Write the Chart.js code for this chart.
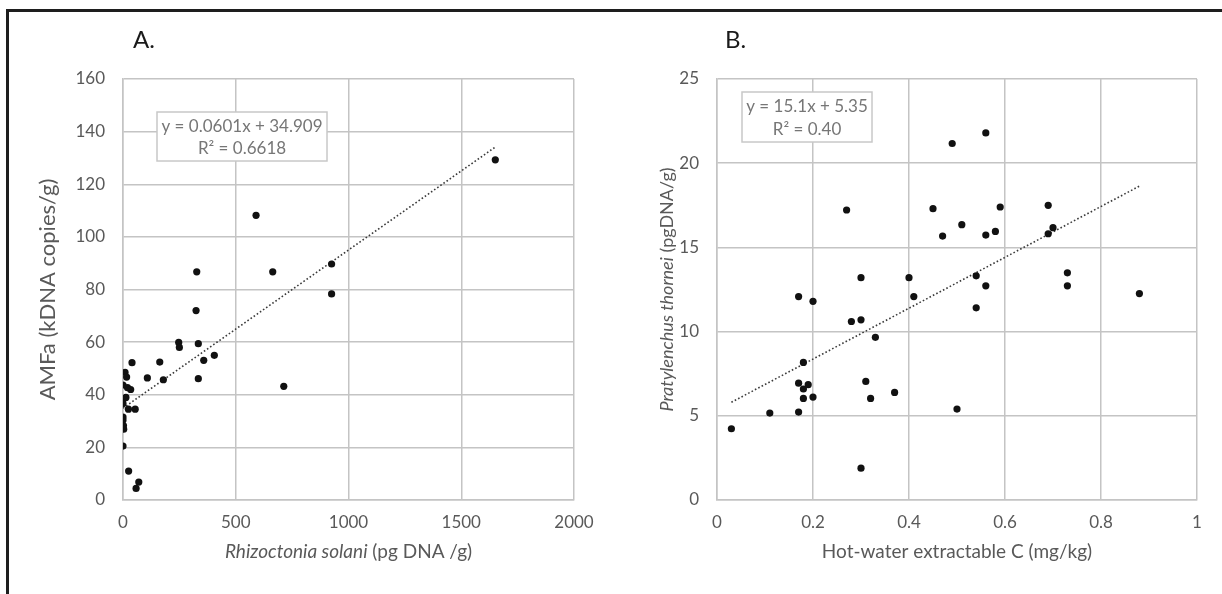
<!DOCTYPE html>
<html>
<head>
<meta charset="utf-8">
<script src="https://cdn.jsdelivr.net/npm/chart.js@4/dist/chart.umd.min.js"></script>
<style>
body { margin:0; background:#fff; width:1222px; height:594px; overflow:hidden; position:relative; font-family:Lato, sans-serif; }
#frame { position:absolute; left:6px; top:9px; right:0; bottom:0; border-left:3px solid #1e1e1e; border-top:3px solid #1e1e1e; }
.wrap { position:absolute; top:0; width:611px; height:594px; }
.panel { position:absolute; top:24px; font-size:24px; color:#1a1a1a; }
</style>
</head>
<body>
<div id="frame"></div>
<div class="wrap" style="left:0"><canvas id="chartA" width="611" height="594"></canvas></div>
<div class="wrap" style="left:611px"><canvas id="chartB" width="611" height="594"></canvas></div>
<div class="panel" style="left:133px">A.</div>
<div class="panel" style="left:725px">B.</div>
<script>
// panel A: Rhizoctonia solani vs AMFa
const aRhizo = [327, 664, 925, 925, 324, 247, 250, 334, 405, 358, 40, 163, 108, 179, 334, 713, 9, 16, 0, 20, 34, 0, 13, 0, 24, 54, 0, 0, 2, 3, 0, 25, 70, 58, 1651, 590];
const aAmf   = [86.7, 86.7, 89.7, 78.3, 72, 59.9, 58, 59.4, 55, 53.1, 52.2, 52.4, 46.4, 45.7, 46.1, 43.2, 48.5, 46.7, 43.7, 42.7, 42, 38.2, 39, 36.7, 34.5, 34.5, 31.5, 30.4, 28.3, 26.9, 20.5, 11, 6.8, 4.4, 129.3, 108.2];
const aSlope = 0.0601, aIntercept = 34.909;
const aTrendX = [0, 1650];

// panel B: hot-water extractable C vs Pratylenchus thornei
const bHwec = [0.03, 0.11, 0.17, 0.17, 0.18, 0.19, 0.18, 0.20, 0.18, 0.17, 0.20, 0.27, 0.28, 0.30, 0.30, 0.30, 0.31, 0.32, 0.33, 0.37, 0.40, 0.41, 0.45, 0.47, 0.49, 0.56, 0.51, 0.56, 0.58, 0.59, 0.69, 0.70, 0.69, 0.54, 0.56, 0.54, 0.73, 0.73, 0.88, 0.50];
const bPt   = [4.23, 5.16, 5.22, 6.94, 6.59, 6.85, 6.03, 6.11, 8.17, 12.08, 11.8, 17.22, 10.6, 10.7, 13.2, 1.89, 7.04, 6.03, 9.66, 6.39, 13.2, 12.08, 17.3, 15.67, 21.17, 21.8, 16.35, 15.73, 15.95, 17.4, 17.5, 16.17, 15.81, 13.31, 12.72, 11.41, 13.49, 12.72, 12.26, 5.4];
const bSlope = 15.1, bIntercept = 5.35;
const bTrendX = [0.03, 0.88];

const GRID = '#c4c4c4', TICK = '#595959', FONT = 'Lato, sans-serif';

const decor = {
    id: 'decor',
    afterDraw(chart, args, o) {
        const ctx = chart.ctx, ca = chart.chartArea;
        ctx.save();
        ctx.fillStyle = TICK;
        ctx.textBaseline = 'middle';
        const drawParts = (parts, size, cx, cy, rot) => {
            ctx.save();
            ctx.translate(cx, cy);
            if (rot) ctx.rotate(-Math.PI / 2);
            let total = 0;
            parts.forEach(p => { ctx.font = `${p.i ? 'italic ' : ''}${size}px ${FONT}`; total += ctx.measureText(p.t).width; });
            let x = -total / 2;
            ctx.textAlign = 'left';
            parts.forEach(p => { ctx.font = `${p.i ? 'italic ' : ''}${size}px ${FONT}`; ctx.fillText(p.t, x, 0); x += ctx.measureText(p.t).width; });
            ctx.restore();
        };
        drawParts(o.xTitle, o.xSize, (ca.left + ca.right) / 2, 552, false);
        drawParts(o.yTitle, o.ySize, o.yTitleX, (ca.top + ca.bottom) / 2, true);

        // equation box
        const b = o.box;
        ctx.fillStyle = '#fff';
        ctx.fillRect(b.x, b.y, b.w, b.h);
        ctx.strokeStyle = '#c8c8c8';
        ctx.lineWidth = 1.5;
        ctx.strokeRect(b.x, b.y, b.w, b.h);
        ctx.fillStyle = '#767676';
        ctx.font = `17px ${FONT}`;
        ctx.textAlign = 'center';
        ctx.fillText(o.eq[0], b.x + b.w / 2, b.y + b.h * 0.30);
        ctx.fillText(o.eq[1], b.x + b.w / 2, b.y + b.h * 0.75);
        ctx.restore();
    }
};

const fmt = v => String(Math.round(v * 100) / 100);

function scatterChart(id, xs, ys, trendX, slope, icpt, sc, pad, extra) {
    const pts = xs.map((x, i) => ({ x, y: ys[i] }));
    const trend = trendX.map(x => ({ x, y: slope * x + icpt }));
    return new Chart(document.getElementById(id), {
        type: 'scatter',
        data: {
            datasets: [
                { data: pts, pointRadius: 3.6, pointBackgroundColor: '#111', pointBorderWidth: 0, order: 1 },
                { type: 'line', data: trend, borderColor: '#3a3a3a', borderWidth: 1.6, borderDash: [1.6, 2.2], pointRadius: 0, fill: false, order: 2 }
            ]
        },
        options: {
            responsive: false, animation: false,
            layout: { padding: pad },
            plugins: { legend: { display: false }, tooltip: { enabled: false }, decor: extra },
            scales: {
                x: { type: 'linear', min: sc.xMin, max: sc.xMax,
                     ticks: { stepSize: sc.xStep, color: TICK, font: { family: FONT, size: 17 }, padding: 12, callback: fmt },
                     grid: { color: GRID, lineWidth: 1.5, drawTicks: false }, border: { color: GRID, width: 1.5 },
                     afterFit: s => { s.height = 94; } },
                y: { type: 'linear', min: sc.yMin, max: sc.yMax,
                     ticks: { stepSize: sc.yStep, color: TICK, font: { family: FONT, size: 17 }, padding: 18, callback: fmt },
                     grid: { color: GRID, lineWidth: 1.5, drawTicks: false }, border: { color: GRID, width: 1.5 },
                     afterFit: s => { s.width = sc.yWidth; } }
            }
        },
        plugins: [decor]
    });
}

scatterChart('chartA', aRhizo, aAmf, aTrendX, aSlope, aIntercept,
    { xMin: 0, xMax: 2000, xStep: 500, yMin: 0, yMax: 160, yStep: 20, yWidth: 123 },
    { top: 79, right: 37, left: 0, bottom: 0 },
    { xTitle: [{ t: 'Rhizoctonia solani', i: true }, { t: ' (pg DNA /g)' }], xSize: 19,
      yTitle: [{ t: 'AMFa (kDNA copies/g)' }], ySize: 22, yTitleX: 48,
      box: { x: 157, y: 112, w: 170, h: 49 }, eq: ['y = 0.0601x + 34.909', 'R² = 0.6618'] });

scatterChart('chartB', bHwec, bPt, bTrendX, bSlope, bIntercept,
    { xMin: 0, xMax: 1, xStep: 0.2, yMin: 0, yMax: 25, yStep: 5, yWidth: 106 },
    { top: 79, right: 25, left: 0, bottom: 0 },
    { xTitle: [{ t: 'Hot-water extractable C (mg/kg)' }], xSize: 19,
      yTitle: [{ t: 'Pratylenchus thornei', i: true }, { t: ' (pgDNA/g)' }], ySize: 18, yTitleX: 56,
      box: { x: 131, y: 92, w: 130, h: 50 }, eq: ['y = 15.1x + 5.35', 'R² = 0.40'] });
</script>
</body>
</html>
